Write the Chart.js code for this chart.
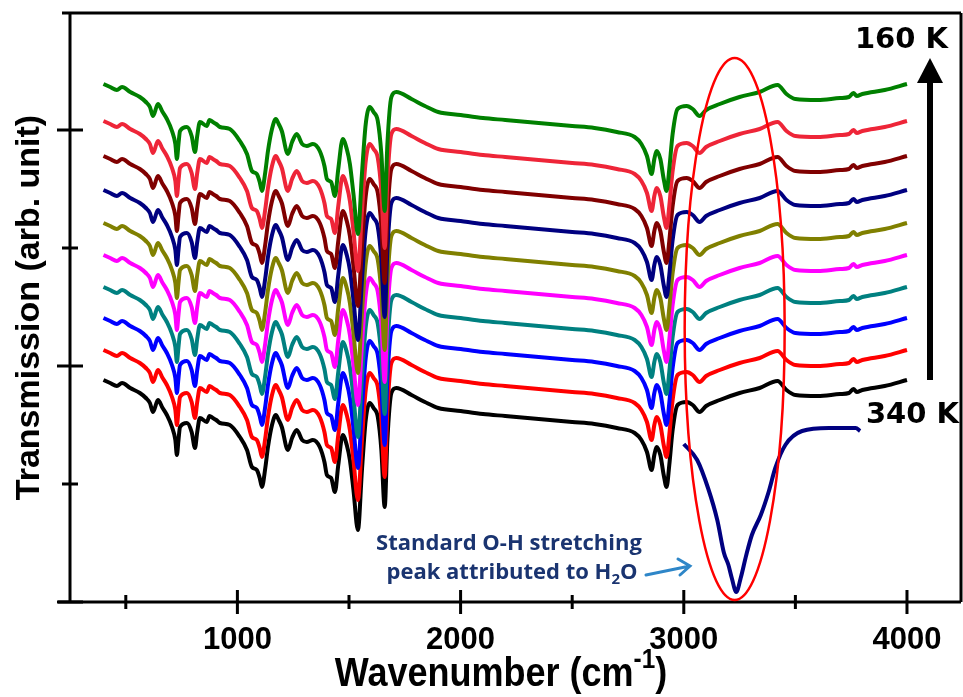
<!DOCTYPE html>
<html>
<head>
<meta charset="utf-8">
<script src="https://cdn.jsdelivr.net/npm/chart.js@4.4.1/dist/chart.umd.min.js"></script>
<style>
  body { margin: 0; background: #fff; }
  #wrap { width: 963px; height: 697px; }
</style>
</head>
<body>
<div id="wrap"><canvas id="ftir"></canvas></div>
<script>
const wavenumbers = [400, 430, 460, 483, 520, 563, 590, 608, 622, 644,
  665, 684, 707, 722, 729, 736, 743, 774, 795, 810,
  820, 832, 863, 875, 890, 905, 922, 966, 1011, 1043,
  1065, 1087, 1100, 1110, 1125, 1137, 1155, 1172, 1185, 1199,
  1226, 1245, 1266, 1290, 1311, 1338, 1369, 1390, 1401, 1420,
  1437, 1452, 1472, 1490, 1504, 1520, 1540, 1558, 1575, 1593,
  1610, 1629, 1645, 1660, 1672, 1690, 1712, 1780, 1840, 1900,
  2000, 2100, 2200, 2300, 2400, 2500, 2600, 2700, 2780, 2810,
  2835, 2856, 2868, 2878, 2895, 2910, 2923, 2935, 2950, 2972,
  3013, 3040, 3071, 3100, 3161, 3250, 3340, 3420, 3460, 3500,
  3600, 3700, 3740, 3760, 3775, 3800, 3900, 4000];
const spectrum340K = [222, 219, 216, 219, 214, 209, 204, 199, 190, 202,
  194, 187, 175, 162, 147, 162, 175, 179, 170, 154,
  170, 184, 180, 186, 184, 182, 179, 177, 165, 152,
  135, 132, 124, 115, 134, 155, 177, 187, 182, 175,
  152, 164, 172, 162, 160, 162, 155, 140, 127, 124,
  110, 137, 167, 157, 142, 112, 72, 132, 182, 199,
  194, 185, 152, 95, 162, 209, 214, 207, 200, 194,
  191, 188, 186, 184, 182, 180, 178, 174, 169, 162,
  150, 132, 147, 155, 147, 127, 115, 137, 172, 197,
  200, 197, 190, 196, 202, 209, 214, 221, 212, 207,
  206, 208, 209, 213, 210, 212, 216, 222];

// stacking offsets of the traces, bottom (340 K) to top (160 K)
const temperatures = ["340 K", "320 K", "300 K", "280 K", "260 K", "240 K", "220 K", "200 K", "180 K", "160 K"];
const stackOffsets = [0, 30, 62, 93, 125, 157, 190, 224, 259, 296];
const traceColors = ["#000000", "#ff0000", "#0000ff", "#008080", "#ff00ff",
  "#808000", "#000080", "#800000", "#ee2538", "#008000"];

// standard O-H stretching band of water
const waterWavenumbers = [3000, 3060, 3110, 3150, 3180, 3200, 3215, 3235, 3255, 3280,
  3305, 3345, 3380, 3410, 3455, 3530, 3650, 3770, 3790];
const waterValues = [158, 142, 113, 82, 49, 37, 24, 10, 24, 47,
  67, 87, 110, 134, 157, 171, 174, 174, 171];

const xTicks = [500, 1000, 1500, 2000, 2500, 3000, 3500, 4000];
const yTicks = [0, 118, 236, 354, 472];

const SANS = "'Liberation Sans', Arial, sans-serif";

const datasets = [];
temperatures.forEach((t, i) => {
  datasets.unshift({
    label: t,
    data: wavenumbers.map((w, k) => ({ x: w, y: spectrum340K[k] + stackOffsets[i] })),
    borderColor: traceColors[i],
  });
});
datasets.push({
  label: "H2O",
  data: waterWavenumbers.map((w, k) => ({ x: w, y: waterValues[k] })),
  borderColor: "#000080",
});

function drawSegments(ctx, parts, cx, baseline) {
  let total = 0;
  parts.forEach((p) => { ctx.font = p.font; p.w = ctx.measureText(p.text).width; total += p.w; });
  let x = cx - total / 2;
  parts.forEach((p) => {
    ctx.font = p.font;
    ctx.fillText(p.text, x, baseline + (p.dy || 0));
    x += p.w;
  });
  return x;
}

const decor = {
  id: "decor",
  afterDraw(chart) {
    const { ctx, chartArea: a, scales: { x, y } } = chart;
    ctx.save();
    ctx.strokeStyle = "#000";
    ctx.lineCap = "butt";

    // frame
    ctx.lineWidth = 3;
    ctx.beginPath();
    ctx.moveTo(a.left - 8, a.top); ctx.lineTo(a.right, a.top);
    ctx.moveTo(a.right, a.top); ctx.lineTo(a.right, a.bottom);
    ctx.moveTo(a.left - 12, a.bottom); ctx.lineTo(a.right, a.bottom);
    ctx.moveTo(a.left, a.top); ctx.lineTo(a.left, a.bottom);
    ctx.stroke();

    // ticks crossing the axes
    ctx.beginPath();
    xTicks.forEach((v) => {
      const px = x.getPixelForValue(v);
      const h = v % 1000 === 0 ? 12 : 7;
      ctx.moveTo(px, a.bottom - h); ctx.lineTo(px, a.bottom + h);
    });
    yTicks.forEach((v) => {
      const py = y.getPixelForValue(v);
      const h = v % 236 === 0 ? 13 : 8;
      ctx.moveTo(a.left - h, py); ctx.lineTo(a.left + h, py);
    });
    ctx.stroke();

    // ellipse round the O-H band
    const cx = x.getPixelForValue(3228);
    const rx = x.getPixelForValue(3228 + 224) - cx;
    const top = y.getPixelForValue(544), bot = y.getPixelForValue(2);
    ctx.strokeStyle = "#ff0000";
    ctx.lineWidth = 2.5;
    ctx.beginPath();
    ctx.ellipse(cx, (top + bot) / 2, rx, (bot - top) / 2, 0, 0, Math.PI * 2);
    ctx.stroke();

    // temperature arrow
    ctx.strokeStyle = "#000";
    ctx.fillStyle = "#000";
    ctx.lineWidth = 6;
    ctx.beginPath();
    ctx.moveTo(930, 380); ctx.lineTo(930, 80);
    ctx.stroke();
    ctx.beginPath();
    ctx.moveTo(930, 58); ctx.lineTo(917, 83); ctx.lineTo(943, 83); ctx.closePath();
    ctx.fill();

    ctx.font = "bold 29px 'DejaVu Sans', sans-serif";
    ctx.textAlign = "right";
    ctx.textBaseline = "alphabetic";
    ctx.fillText("160 K", 948, 48);
    ctx.fillText("340 K", 959, 423);

    // annotation
    ctx.fillStyle = "#1a3470";
    ctx.textAlign = "left";
    const af = "bold 22px 'Open Sans', sans-serif";
    drawSegments(ctx, [{ text: "Standard O-H stretching", font: af }], 509, 550);
    drawSegments(ctx, [
      { text: "peak attributed to H", font: af },
      { text: "2", font: "bold 15px 'Open Sans', sans-serif", dy: 5 },
      { text: "O", font: af },
    ], 512, 579);

    ctx.strokeStyle = "#2e86c8";
    ctx.lineWidth = 3;
    ctx.lineCap = "round";
    ctx.beginPath();
    ctx.moveTo(646, 575); ctx.lineTo(690, 566);
    ctx.moveTo(678, 559); ctx.lineTo(690, 566); ctx.lineTo(680, 575);
    ctx.stroke();

    // x axis title with superscript, slightly condensed
    ctx.fillStyle = "#000";
    ctx.translate(501, 0);
    ctx.scale(0.9, 1);
    drawSegments(ctx, [
      { text: "Wavenumber (cm", font: "bold 40px " + SANS },
      { text: "-1", font: "bold 27px " + SANS, dy: -18 },
      { text: ")", font: "bold 40px " + SANS },
    ], 0, 686);
    ctx.restore();
  },
};

new Chart(document.getElementById("ftir"), {
  type: "line",
  data: { datasets },
  options: {
    responsive: true,
    maintainAspectRatio: false,
    animation: false,
    layout: { padding: { top: 13, right: 2, left: 0, bottom: 0 } },
    elements: {
      point: { radius: 0 },
      line: { borderWidth: 4, cubicInterpolationMode: "monotone", fill: false },
    },
    plugins: { legend: { display: false }, tooltip: { enabled: false } },
    scales: {
      x: {
        type: "linear",
        min: 250,
        max: 4242,
        afterBuildTicks: (s) => { s.ticks = xTicks.map((v) => ({ value: v })); },
        afterFit: (s) => { s.height = 95; },
        grid: { display: false },
        border: { display: false },
        ticks: {
          autoSkip: false,
          maxRotation: 0,
          padding: 12,
          color: "#000",
          font: { family: SANS, size: 31, weight: "bold" },
          callback: (v) => (v % 1000 === 0 ? v : ""),
        },
      },
      y: {
        min: 0,
        max: 589,
        afterBuildTicks: (s) => { s.ticks = yTicks.map((v) => ({ value: v })); },
        afterFit: (s) => { s.width = 70; },
        grid: { display: false },
        border: { display: false },
        ticks: { display: false },
        title: {
          display: true,
          text: "Transmission (arb. unit)",
          color: "#000",
          padding: { top: 9, bottom: 0 },
          font: { family: SANS, size: 34, weight: "bold" },
        },
      },
    },
  },
  plugins: [decor],
});
</script>
</body>
</html>
